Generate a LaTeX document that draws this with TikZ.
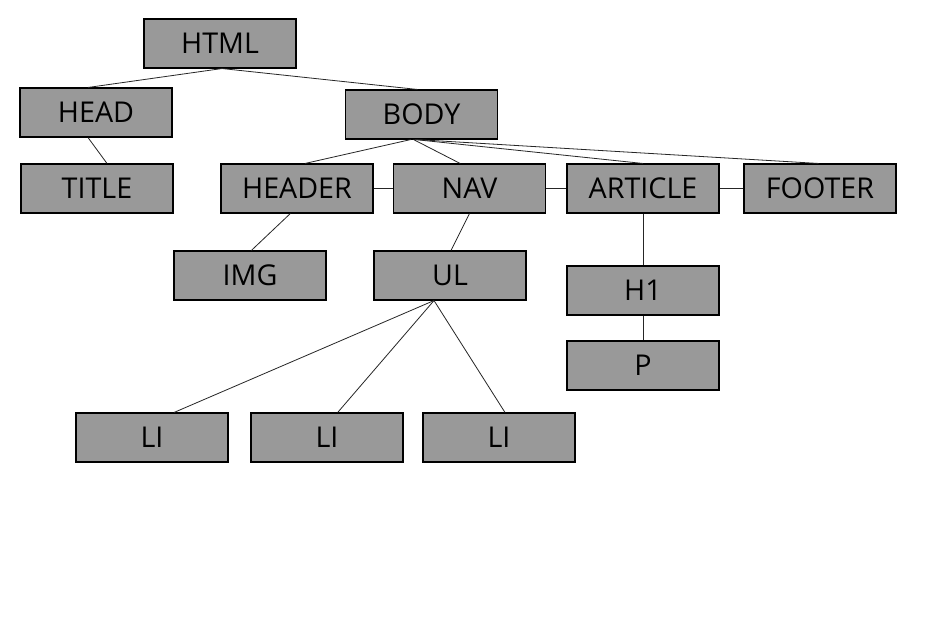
\documentclass[tikz,border=0pt]{standalone}
\usepackage{fontspec}
\setmainfont{Open Sans}
\begin{document}
\begin{tikzpicture}[x=0.75pt,y=-0.75pt,
  tag/.style={draw=black, line width=0.8pt, fill={rgb,255:red,153;green,153;blue,153},
    minimum width=114pt, minimum height=36.75pt, inner sep=0pt,
    font=\fontsize{21.5}{25}\selectfont},
  link/.style={draw=black!85, line width=0.6pt}]
\useasboundingbox[fill=white] (0,0) rectangle (938,632);
% nodes
\node[tag] (html)    at (220,43.5)  {HTML};
\node[tag] (head)    at (96,112.5)  {HEAD};
\node[tag] (body)    at (421.5,114.5) {BODY};
\node[tag] (title)   at (97,188.5)  {TITLE};
\node[tag] (header)  at (297,188.5) {HEADER};
\node[tag] (nav)     at (469.5,188.5) {NAV};
\node[tag] (article) at (643,188.5) {ARTICLE};
\node[tag] (footer)  at (820,188.5) {FOOTER};
\node[tag] (img)     at (250,275.5) {IMG};
\node[tag] (ul)      at (450,275.5) {UL};
\node[tag] (h1)      at (643,290.5) {H1};
\node[tag] (p)       at (643,365.5) {P};
\node[tag] (lia)     at (152,437.5) {LI};
\node[tag] (lib)     at (327,437.5) {LI};
\node[tag] (lic)     at (499,437.5) {LI};
% connectors
\draw[link] ([xshift=1.5pt]html.south) -- ([xshift=-6pt]head.north);
\draw[link] ([xshift=1.5pt]html.south) -- ([xshift=-3pt]body.north);
\draw[link] ([xshift=-6pt]head.south) -- ([xshift=7.5pt]title.north);
\draw[link] ([xshift=-8pt]body.south) -- ([xshift=6pt]header.north);
\draw[link] ([xshift=-6pt]body.south) -- ([xshift=-7pt]nav.north);
\draw[link] ([xshift=-5pt]body.south) -- (article.north);
\draw[link] ([xshift=-4pt]body.south) -- ([xshift=-1pt]footer.north);
\draw[link] (header.east) -- (nav.west);
\draw[link] (nav.east) -- (article.west);
\draw[link] (article.east) -- (footer.west);
\draw[link] ([xshift=-5pt]header.south) -- ([xshift=1pt]img.north);
\draw[link] (nav.south) -- ([xshift=0.75pt]ul.north);
\draw[link] ([xshift=-12pt]ul.south) -- ([xshift=16.5pt]lia.north);
\draw[link] ([xshift=-12pt]ul.south) -- ([xshift=8pt]lib.north);
\draw[link] ([xshift=-12pt]ul.south) -- ([xshift=4.5pt]lic.north);
\draw[link] (article.south) -- (h1.north);
\draw[link] (h1.south) -- (p.north);
\end{tikzpicture}
\end{document}
